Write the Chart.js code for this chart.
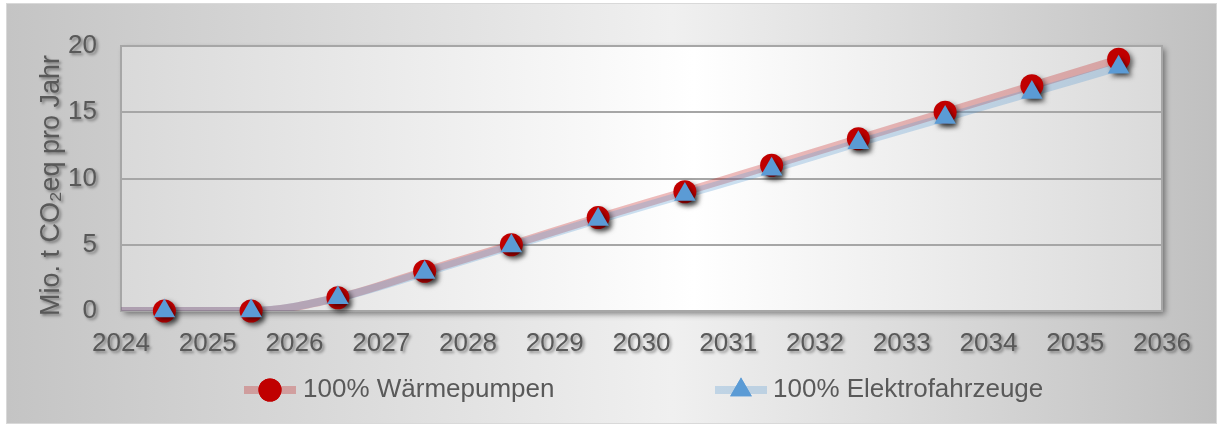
<!DOCTYPE html>
<html>
<head>
<meta charset="utf-8">
<script src="https://cdn.jsdelivr.net/npm/chart.js@4/dist/chart.umd.min.js"></script>
<style>
  html, body { margin: 0; padding: 0; background: #fff; }
  #wrap { width: 1220px; height: 426px; position: relative; }
</style>
</head>
<body>
<div id="wrap"><canvas id="c" width="1220" height="426"></canvas></div>
<script>
// data (first entry at 2024 only carries the line to the axis)
const years = [2024, 2024.5, 2025.5, 2026.5, 2027.5, 2028.5, 2029.5, 2030.5, 2031.5, 2032.5, 2033.5, 2034.5, 2035.5];
const waermepumpen = [0, 0, 0, 1, 3, 5, 7.05, 9, 11, 13, 15, 17, 19];
const elektroautos = [0, 0, 0, 1, 2.9, 4.9, 6.9, 8.8, 10.7, 12.7, 14.6, 16.5, 18.4];
const seriesNames = ["100% Wärmepumpen", "100% Elektrofahrzeuge"];
const yTicks = [0, 5, 10, 15, 20];
const yTitle = "Mio. t CO\u2082eq pro Jahr";

const FONT = "'Liberation Sans', Arial, sans-serif";
const TEXT = "#595959";
const RED = "#c00000", RED_LINE = "rgba(192,0,0,0.26)";
const BLUE = "#5b9bd5", BLUE_LINE = "rgba(91,155,213,0.3)";

const pts = (vals) => years.map((x, i) => ({ x, y: vals[i] }));
const circleRadius = (ctx) => (ctx.dataIndex === 0 ? 0 : 11.5);
const triangleRadius = (ctx) => (ctx.dataIndex === 0 ? 0 : 12.5);

// backgrounds: outer panel and plot area with shadow
const backdrop = {
  id: "backdrop",
  beforeDraw(chart) {
    const { ctx, chartArea: a } = chart;
    ctx.save();
    const g = ctx.createLinearGradient(7, 0, 1216, 0);
    g.addColorStop(0, "#c4c4c4");
    g.addColorStop(0.55, "#f0f0f0");
    g.addColorStop(1, "#c0c0c0");
    ctx.fillStyle = g;
    ctx.fillRect(7, 4, 1209, 419);
    ctx.strokeStyle = "#d9d9d9";
    ctx.lineWidth = 1;
    ctx.strokeRect(6.5, 3.5, 1210, 420);

    const pg = ctx.createLinearGradient(a.left, 0, a.right, 0);
    pg.addColorStop(0, "#d9d9d9");
    pg.addColorStop(0.55, "#ffffff");
    pg.addColorStop(1, "#dadada");
    ctx.shadowColor = "rgba(0,0,0,0.45)";
    ctx.shadowBlur = 6;
    ctx.shadowOffsetX = 3;
    ctx.shadowOffsetY = 3;
    ctx.fillStyle = pg;
    ctx.fillRect(a.left, a.top, a.right - a.left, a.bottom - a.top);
    ctx.restore();
    ctx.save();
    ctx.strokeStyle = "#a6a6a6";
    ctx.lineWidth = 2;
    ctx.strokeRect(a.left, a.top, a.right - a.left, a.bottom - a.top);
    ctx.restore();

    // text shadow for tick labels and axis title
    Object.values(chart.scales).forEach((s) => {
      if (s._shadowed) return;
      s._shadowed = true;
      ["drawLabels", "drawTitle"].forEach((fn) => {
        const orig = s[fn];
        s[fn] = function (...args) {
          const c = this.ctx;
          c.save();
          c.shadowColor = "rgba(0,0,0,0.4)";
          c.shadowBlur = 3;
          c.shadowOffsetX = 2;
          c.shadowOffsetY = 2;
          if (fn === "drawTitle" && this.axis === "y") c.translate(2, 7);
          orig.apply(this, args);
          c.restore();
        };
      });
    });
  },
  beforeDatasetDraw(chart, args) {
    if (!args.meta._dataset.shadow) return;
    const ctx = chart.ctx;
    ctx.save();
    ctx.shadowColor = "rgba(0,0,0,0.55)";
    ctx.shadowBlur = 5;
    ctx.shadowOffsetX = 3;
    ctx.shadowOffsetY = 3;
  },
  afterDatasetDraw(chart, args) {
    if (args.meta._dataset.shadow) chart.ctx.restore();
  },
};

// legend drawn as line sample + marker + label
const legendRow = {
  id: "legendRow",
  afterDraw(chart) {
    const { ctx } = chart;
    const items = [
      { x0: 244, x1: 296, mx: 270, tx: 303, line: RED_LINE, fill: RED, style: "circle", r: 11.5, text: seriesNames[0] },
      { x0: 715, x1: 767, mx: 741, tx: 773, line: BLUE_LINE, fill: BLUE, style: "triangle", r: 12.5, text: seriesNames[1] },
    ];
    const y = 390;
    ctx.save();
    items.forEach((it) => {
      ctx.fillStyle = it.line;
      ctx.fillRect(it.x0, y - 4, it.x1 - it.x0, 8);
      ctx.fillStyle = it.fill;
      Chart.helpers.drawPoint(ctx, { pointStyle: it.style, radius: it.r, borderWidth: 0, rotation: 0 }, it.mx, y);
      ctx.fill();
      ctx.fillStyle = TEXT;
      ctx.font = "26px " + FONT;
      ctx.textBaseline = "middle";
      ctx.textAlign = "left";
      ctx.fillText(it.text, it.tx, y);
    });
    ctx.restore();
  },
};

new Chart(document.getElementById("c"), {
  type: "scatter",
  data: {
    datasets: [
      { label: seriesNames[0], data: pts(waermepumpen), showLine: true, borderColor: RED_LINE, borderWidth: 8, pointRadius: 0, pointHoverRadius: 0, cubicInterpolationMode: "monotone", order: 4 },
      { label: seriesNames[1], data: pts(elektroautos), showLine: true, borderColor: BLUE_LINE, borderWidth: 8, pointRadius: 0, pointHoverRadius: 0, cubicInterpolationMode: "monotone", order: 3 },
      { label: seriesNames[0], data: pts(waermepumpen), showLine: false, pointStyle: "circle", pointRadius: circleRadius, backgroundColor: RED, borderWidth: 0, shadow: true, clip: false, order: 2 },
      { label: seriesNames[1], data: pts(elektroautos), showLine: false, pointStyle: "triangle", pointRadius: triangleRadius, backgroundColor: BLUE, borderWidth: 0, shadow: true, clip: false, order: 1 },
    ],
  },
  options: {
    responsive: false,
    animation: false,
    events: [],
    layout: { padding: { left: 0, right: 58, top: 46, bottom: 0 } },
    plugins: { legend: { display: false }, tooltip: { enabled: false } },
    scales: {
      x: {
        type: "linear",
        min: 2024,
        max: 2036,
        grid: { display: false },
        border: { display: false },
        ticks: { stepSize: 1, color: TEXT, font: { family: FONT, size: 26 }, padding: 9, maxRotation: 0, callback: (v) => String(v) },
        afterFit: (s) => { s.height = 115; },
      },
      y: {
        min: 0,
        max: 20,
        afterBuildTicks: (s) => { s.ticks = yTicks.map((value) => ({ value })); },
        grid: { color: "#a6a6a6", lineWidth: 2, drawTicks: false },
        border: { display: false },
        ticks: { color: TEXT, font: { family: FONT, size: 26 }, padding: 24 },
        title: { display: true, text: yTitle, color: TEXT, font: { family: FONT, size: 27 }, padding: { top: 33, bottom: 0 } },
        afterFit: (s) => { s.width = 121; },
      },
    },
  },
  plugins: [backdrop, legendRow],
});
</script>
</body>
</html>
